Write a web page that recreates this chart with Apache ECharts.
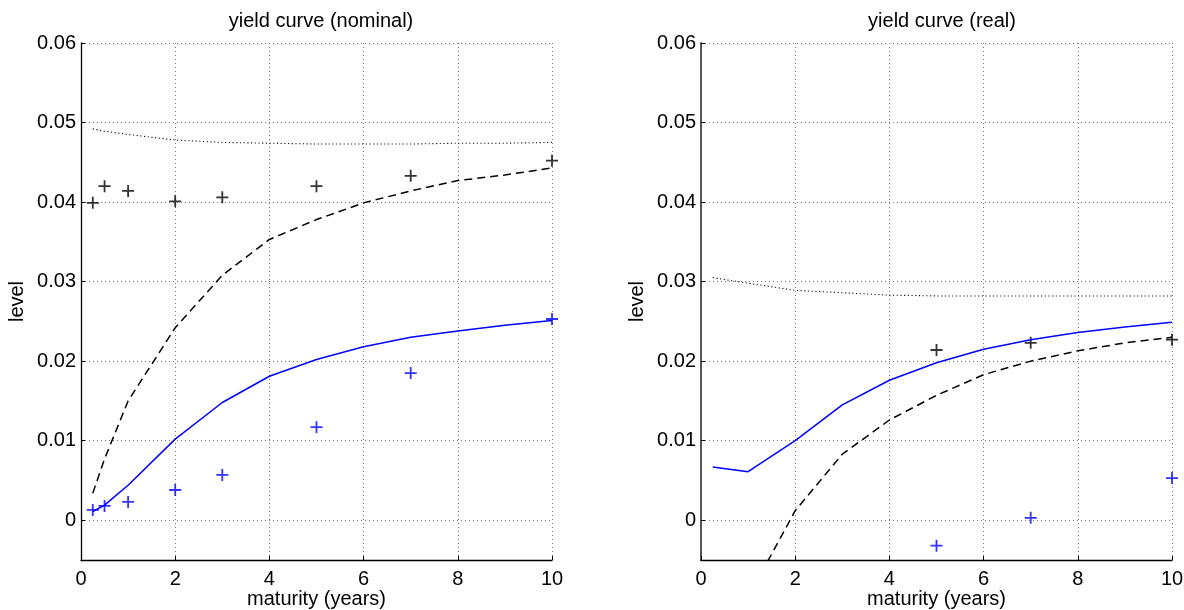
<!DOCTYPE html>
<html><head><meta charset="utf-8">
<script src="https://cdn.jsdelivr.net/npm/echarts@6/dist/echarts.min.js"></script>
<style>html,body{margin:0;padding:0;background:#fff}#c{width:1184px;height:610px}</style>
</head><body><div id="c"></div>
<script>
// ---- data ----
const titles = ['yield curve (nominal)', 'yield curve (real)'];
const xName = 'maturity (years)';
const yName = 'level';
const xTicks = [0, 2, 4, 6, 8, 10];
const yTicks = [0, 0.01, 0.02, 0.03, 0.04, 0.05, 0.06];

// nominal panel
const nomMaturities = [0.25, 0.5, 1, 2, 3, 4, 5, 6, 7, 8, 9, 10];
const nomDotted = [0.0492, 0.0489, 0.0485, 0.0478, 0.0475, 0.0474, 0.0473, 0.0473, 0.0473, 0.0474, 0.0474, 0.0475];
const nomDashed = [0.0034, 0.0077, 0.0150, 0.0242, 0.0308, 0.0353, 0.0378, 0.0399, 0.0414, 0.0427, 0.0434, 0.0443];
const nomSolid  = [0.0011, 0.0019, 0.0044, 0.0102, 0.0148, 0.0181, 0.0202, 0.0218, 0.0230, 0.0238, 0.0245, 0.0251];
const nomObsMaturities = [0.25, 0.5, 1, 2, 3, 5, 7, 10];
const nomObsBlack = [0.0399, 0.0420, 0.0414, 0.0401, 0.0406, 0.0420, 0.0433, 0.0452];
const nomObsBlue  = [0.0013, 0.0018, 0.0023, 0.0038, 0.0057, 0.0117, 0.0185, 0.0253];

// real panel
const realMaturities = [0.25, 1, 2, 3, 4, 5, 6, 7, 8, 9, 10];
const realDotted = [0.0305, 0.0298, 0.0289, 0.0286, 0.0283, 0.0282, 0.0282, 0.0282, 0.0282, 0.0282, 0.0282];
const realDashed = [-0.0200, -0.0097, 0.0012, 0.0083, 0.0126, 0.0157, 0.0183, 0.0200, 0.0213, 0.0223, 0.0230];
const realSolid  = [0.0067, 0.0061, 0.0100, 0.0145, 0.0176, 0.0198, 0.0215, 0.0227, 0.0236, 0.0243, 0.0249];
const realObsMaturities = [5, 7, 10];
const realObsBlack = [0.0214, 0.0223, 0.0227];
const realObsBlue  = [-0.0032, 0.0003, 0.0053];

// ---- chart ----
const zip = (xs, ys) => xs.map((x, i) => [x, ys[i]]);
const FONT = 'Liberation Sans, Arial, Helvetica, sans-serif';
const PLUS = 'path://M4.25,0H5.75V4.25H10V5.75H5.75V10H4.25V5.75H0V4.25H4.25Z';
const BLUE = '#0000ff';

const grids = [
  { left: 81, top: 43, width: 471, height: 517, containLabel: false, outerBoundsMode: 'none' },
  { left: 701, top: 43, width: 471, height: 517, containLabel: false, outerBoundsMode: 'none' }
];

function xAxis(gi) {
  return {
    type: 'value', gridIndex: gi, min: 0, max: 10, interval: 2,
    name: xName, nameLocation: 'middle', nameGap: 29, nameMoveOverlap: false,
    nameTextStyle: { fontFamily: FONT, fontSize: 20, color: '#000' },
    axisLine: { show: true, onZero: false, lineStyle: { color: '#000', width: 1.3 } },
    axisTick: { show: true, inside: true, length: 4, lineStyle: { color: '#000' } },
    axisLabel: { fontFamily: FONT, fontSize: 20, color: '#000', margin: 9 },
    splitLine: { show: true, lineStyle: { color: '#777', type: [1, 3], width: 1 } }
  };
}
function yAxis(gi) {
  return {
    type: 'value', gridIndex: gi, min: -0.005, max: 0.06,
    name: yName, nameLocation: 'middle', nameGap: 54, nameMoveOverlap: false,
    nameTextStyle: { fontFamily: FONT, fontSize: 20, color: '#000' },
    axisLine: { show: true, onZero: false, lineStyle: { color: gi === 1 ? '#555' : '#000', width: gi === 1 ? 2 : 1.3 } },
    axisTick: { show: true, inside: true, length: 4, customValues: yTicks, lineStyle: { color: '#000' } },
    axisLabel: { fontFamily: FONT, fontSize: 20, color: '#000', margin: 5, customValues: yTicks,
      formatter: v => (Math.abs(v) < 1e-9 ? '0' : v.toFixed(2)) },
    splitLine: { show: true, lineStyle: { color: '#777', type: [1, 3], width: 1 } }
  };
}

function lineSeries(gi, xs, ys, color, type, width) {
  return {
    type: 'line', xAxisIndex: gi, yAxisIndex: gi, data: zip(xs, ys),
    showSymbol: false, symbol: 'none', clip: true, silent: true,
    lineStyle: { color: color, type: type, width: width }
  };
}
function plusSeries(gi, xs, ys, color) {
  return {
    type: 'scatter', xAxisIndex: gi, yAxisIndex: gi, data: zip(xs, ys),
    symbol: PLUS, symbolSize: 12, silent: true,
    itemStyle: { color: color }
  };
}

const option = {
  animation: false,
  backgroundColor: '#fff',
  title: [
    { text: titles[0], left: 316, top: 6, textAlign: 'center',
      textStyle: { fontFamily: FONT, fontSize: 20, fontWeight: 'normal', color: '#000' } },
    { text: titles[1], left: 937, top: 6, textAlign: 'center',
      textStyle: { fontFamily: FONT, fontSize: 20, fontWeight: 'normal', color: '#000' } }
  ],
  grid: grids,
  xAxis: [xAxis(0), xAxis(1)],
  yAxis: [yAxis(0), yAxis(1)],
  series: [
    lineSeries(0, nomMaturities, nomDotted, '#111', [1.2, 2.5], 1.1),
    lineSeries(0, nomMaturities, nomDashed, '#000', [8, 5], 1.5),
    lineSeries(0, nomMaturities, nomSolid, BLUE, 'solid', 1.5),
    plusSeries(0, nomObsMaturities, nomObsBlack, '#000'),
    plusSeries(0, nomObsMaturities, nomObsBlue, BLUE),
    lineSeries(1, realMaturities, realDotted, '#111', [1.2, 2.5], 1.1),
    lineSeries(1, realMaturities, realDashed, '#000', [8, 5], 1.5),
    lineSeries(1, realMaturities, realSolid, BLUE, 'solid', 1.5),
    plusSeries(1, realObsMaturities, realObsBlack, '#000'),
    plusSeries(1, realObsMaturities, realObsBlue, BLUE)
  ]
};
const chart = echarts.init(document.getElementById('c'), null, { renderer: 'canvas' });
chart.setOption(option);
</script>
</body></html>
